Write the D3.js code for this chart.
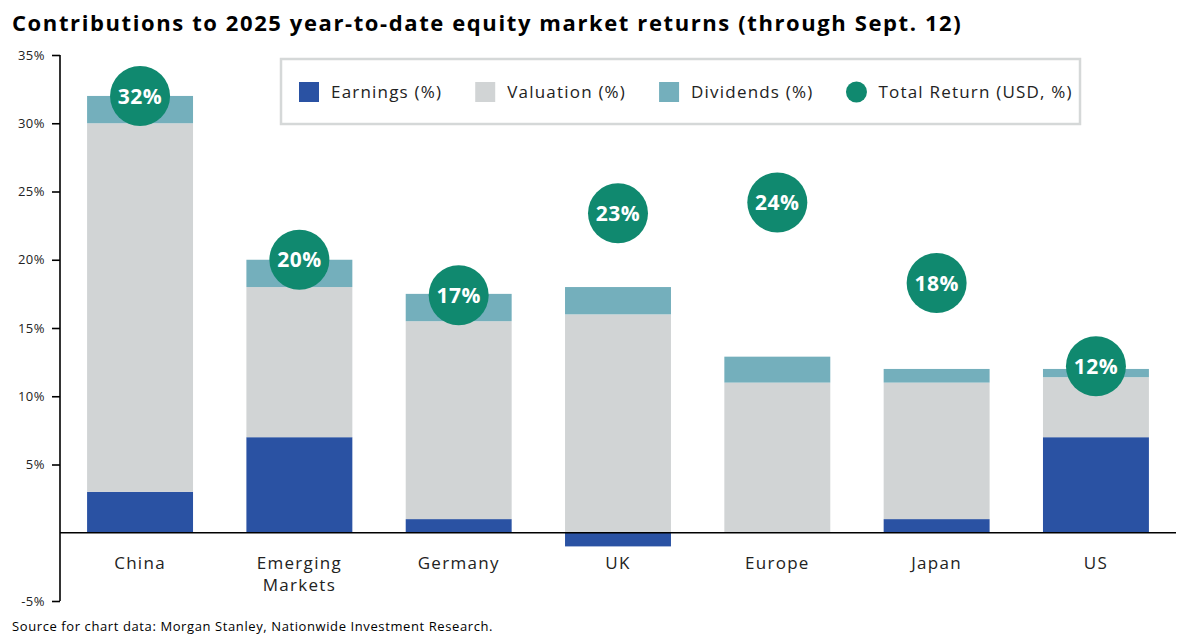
<!DOCTYPE html>
<html>
<head>
<meta charset="utf-8">
<script src="https://cdn.jsdelivr.net/npm/d3@7"></script>
<style>
  body { margin: 0; background: #fff; }
  svg { font-family: "Open Sans", sans-serif; }
</style>
</head>
<body>
<div id="chart"></div>
<script>
const categories = ["China", "Emerging Markets", "Germany", "UK", "Europe", "Japan", "US"];
const earnings = [3, 7, 1, -1, 0, 1, 7];
const valuation = [27, 11, 14.5, 16, 11, 10, 4.4];
const dividends = [2, 2, 2, 2, 1.9, 1, 0.6];
const totalReturn = [32, 20, 17.4, 23.4, 24.2, 18.3, 12.2];
const yTicks = [-5, 5, 10, 15, 20, 25, 30, 35];

const seriesKeys = ["earnings", "valuation", "dividends"];
const seriesNames = ["Earnings (%)", "Valuation (%)", "Dividends (%)"];
const colors = { earnings: "#2a52a3", valuation: "#d1d4d5", dividends: "#74afbc" };
const circleColor = "#10896f";

const width = 1200, height = 640;

const svg = d3.select("#chart")
    .append("svg")
    .attr("width", width)
    .attr("height", height);

// table for the stack
const rows = categories.map((c, i) => ({
    category: c,
    earnings: earnings[i],
    valuation: valuation[i],
    dividends: dividends[i],
    total: totalReturn[i]
}));

const x = d3.scaleBand()
    .domain(categories)
    .range([60, 1176])
    .paddingInner(0.335)
    .paddingOuter(0.17);

const y = d3.scaleLinear()
    .domain([-5, 35])
    .range([601, 55]);

// title
svg.append("text")
    .attr("x", 12)
    .attr("y", 31)
    .attr("font-size", 22)
    .attr("font-weight", 700)
    .attr("letter-spacing", 1.6)
    .attr("fill", "#000")
    .text("Contributions to 2025 year-to-date equity market returns (through Sept. 12)");

// stacked bars
const stacked = d3.stack()
    .keys(seriesKeys)
    .offset(d3.stackOffsetDiverging)(rows);

svg.append("g")
    .selectAll("g")
    .data(stacked)
    .join("g")
    .attr("fill", d => colors[d.key])
    .selectAll("rect")
    .data(d => d)
    .join("rect")
    .attr("x", d => x(d.data.category))
    .attr("width", x.bandwidth())
    .attr("y", d => y(Math.max(d[0], d[1])))
    .attr("height", d => Math.abs(y(d[0]) - y(d[1])));

// y axis
const yAxis = svg.append("g")
    .attr("transform", "translate(60,0)")
    .call(d3.axisLeft(y)
        .tickValues(yTicks)
        .tickSize(8)
        .tickPadding(7)
        .tickFormat(d => d + "%"));
yAxis.select(".domain")
    .attr("stroke", "#000")
    .attr("stroke-width", 1.6)
    .attr("d", `M0,${y(35)}V${y(-5)}`);
yAxis.selectAll(".tick line").attr("stroke", "#000").attr("stroke-width", 1.6);
yAxis.selectAll(".tick text")
    .attr("font-size", 13)
    .attr("letter-spacing", 0.5)
    .attr("fill", "#222")
    .attr("font-family", "'Open Sans', sans-serif");

// zero line
svg.append("line")
    .attr("x1", 60)
    .attr("x2", x.range()[1])
    .attr("y1", y(0))
    .attr("y2", y(0))
    .attr("stroke", "#000")
    .attr("stroke-width", 1.6);

// category labels, wrapped to the band width
const catLabels = svg.append("g")
    .selectAll("text")
    .data(categories)
    .join("text")
    .attr("x", d => x(d) + x.bandwidth() / 2)
    .attr("y", 569)
    .attr("text-anchor", "middle")
    .attr("font-size", 17)
    .attr("letter-spacing", 1.3)
    .attr("fill", "#222");

catLabels.each(function (d) {
    const t = d3.select(this);
    const words = d.split(" ");
    let line = [];
    let tspan = t.append("tspan").attr("x", t.attr("x")).attr("dy", 0);
    words.forEach(w => {
        line.push(w);
        tspan.text(line.join(" "));
        if (tspan.node().getComputedTextLength() > x.bandwidth() + 10 && line.length > 1) {
            line.pop();
            tspan.text(line.join(" "));
            line = [w];
            tspan = t.append("tspan").attr("x", t.attr("x")).attr("dy", 22).text(w);
        }
    });
});

// total return bubbles
const bubbles = svg.append("g")
    .selectAll("g")
    .data(rows)
    .join("g")
    .attr("transform", d => `translate(${x(d.category) + x.bandwidth() / 2},${y(d.total)})`);

bubbles.append("circle")
    .attr("r", 30)
    .attr("fill", circleColor);

bubbles.append("text")
    .attr("text-anchor", "middle")
    .attr("dy", "0.36em")
    .attr("font-size", 21)
    .attr("font-weight", 700)
    .attr("letter-spacing", 0.5)
    .attr("fill", "#fff")
    .text(d => Math.round(d.total) + "%");

// legend
const legend = svg.append("g");
legend.append("rect")
    .attr("x", 281)
    .attr("y", 59)
    .attr("width", 799)
    .attr("height", 65)
    .attr("fill", "#fff")
    .attr("stroke", "#d5d8d8")
    .attr("stroke-width", 2.5);

let lx = 299;
const ly = 92;
const legendItems = seriesKeys.map((k, i) => ({ name: seriesNames[i], color: colors[k], shape: "rect" }))
    .concat([{ name: "Total Return (USD, %)", color: circleColor, shape: "circle" }]);

legendItems.forEach(item => {
    if (item.shape === "rect") {
        legend.append("rect")
            .attr("x", lx)
            .attr("y", ly - 10)
            .attr("width", 20)
            .attr("height", 20)
            .attr("fill", item.color);
    } else {
        legend.append("circle")
            .attr("cx", lx + 10)
            .attr("cy", ly)
            .attr("r", 10.5)
            .attr("fill", item.color);
    }
    const t = legend.append("text")
        .attr("x", lx + 32)
        .attr("y", ly)
        .attr("dy", "0.35em")
        .attr("font-size", 17)
        .attr("letter-spacing", 1.2)
        .attr("fill", "#222")
        .text(item.name);
    lx += 32 + t.node().getComputedTextLength() + 33;
});

// source
svg.append("text")
    .attr("x", 12)
    .attr("y", 631)
    .attr("font-size", 13)
    .attr("letter-spacing", 0.6)
    .attr("fill", "#000")
    .text("Source for chart data: Morgan Stanley, Nationwide Investment Research.");
</script>
</body>
</html>
